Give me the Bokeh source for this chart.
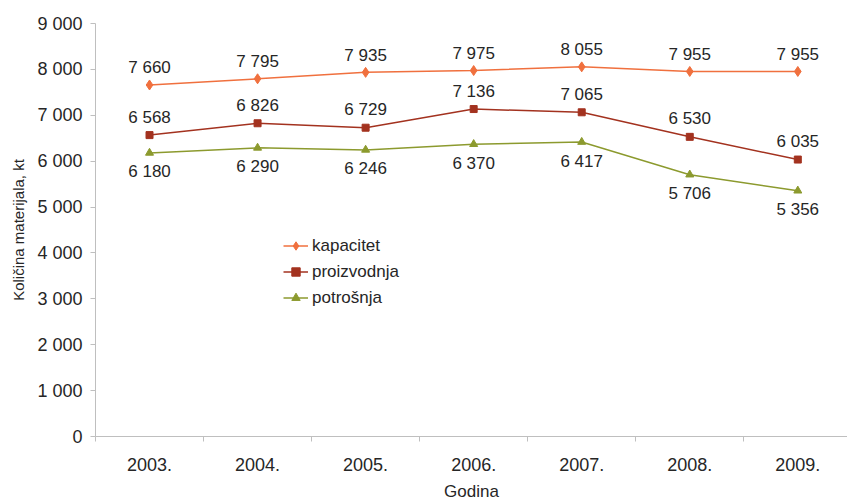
from bokeh.plotting import figure
from bokeh.models import FixedTicker, Range1d, Legend, LegendItem, ColumnDataSource
from bokeh.core.properties import value
from bokeh.embed import file_html
from bokeh.resources import INLINE

years = ["2003.", "2004.", "2005.", "2006.", "2007.", "2008.", "2009."]
kapacitet = [7660, 7795, 7935, 7975, 8055, 7955, 7955]
proizvodnja = [6568, 6826, 6729, 7136, 7065, 6530, 6035]
potrosnja = [6180, 6290, 6246, 6370, 6417, 5706, 5356]
y_ticks = [0, 1000, 2000, 3000, 4000, 5000, 6000, 7000, 8000, 9000]

FONT = "Liberation Sans"
xs = [i + 0.5 for i in range(len(years))]

def fmt(v):
    return f"{v:,}".replace(",", " ")

p = figure(width=847, height=503, output_backend="svg", toolbar_location=None,
           x_range=Range1d(0, 6.96), y_range=Range1d(0, 9000),
           min_border_left=95, min_border_right=0, min_border_top=23, min_border_bottom=58)
p.outline_line_color = None
p.xgrid.visible = False
p.ygrid.visible = False

series = [
    ("kapacitet", kapacitet, "#f0703e", "diamond", 10, -17),
    ("proizvodnja", proizvodnja, "#a3321f", "square", 7, -18),
    ("potrošnja", potrosnja, "#8c9a2e", "triangle", 8, 19),
]
items = []
for name, vals, color, marker, size, yoff in series:
    src = ColumnDataSource(dict(x=xs, y=vals, t=[fmt(v) for v in vals]))
    ln = p.line("x", "y", source=src, line_color=color, line_width=1.5)
    sc = p.scatter("x", "y", source=src, marker=marker, size=size, fill_color=color, line_color=color)
    p.text("x", "y", text="t", source=src, x_offset=0, y_offset=yoff,
           text_align="center", text_baseline="middle", text_font=value(FONT),
           text_font_size="17px", text_color="#262626")
    items.append(LegendItem(label=name, renderers=[ln, sc]))

legend = Legend(items=items, location=(188, 128), orientation="vertical",
                label_text_font=FONT, label_text_font_size="17px", label_text_color="#262626",
                border_line_color=None, background_fill_alpha=0, padding=0, spacing=5,
                glyph_width=25, glyph_height=21, label_height=21, label_standoff=4, margin=0)
p.add_layout(legend, "center")

ax = p.xaxis[0]
ax.ticker = FixedTicker(ticks=xs, minor_ticks=list(range(0, 8)))
ax.major_label_overrides = {x: y for x, y in zip(xs, years)}
ax.major_tick_out = 0
ax.major_tick_in = 0
ax.minor_tick_out = 5
ax.minor_tick_in = 0
ax.minor_tick_line_color = "#bfbfbf"
ax.axis_line_color = "#bfbfbf"
ax.major_label_text_font = FONT
ax.major_label_text_font_size = "18px"
ax.major_label_text_color = "#262626"
ax.major_label_standoff = 16
ax.axis_label = "Godina"
ax.axis_label_text_font = FONT
ax.axis_label_text_font_size = "17px"
ax.axis_label_text_font_style = "normal"
ax.axis_label_text_color = "#262626"
ax.axis_label_standoff = 8

ay = p.yaxis[0]
ay.ticker = FixedTicker(ticks=y_ticks)
ay.major_label_overrides = {v: fmt(v) for v in y_ticks}
ay.major_tick_out = 5
ay.major_tick_in = 0
ay.minor_tick_line_color = None
ay.major_tick_line_color = "#bfbfbf"
ay.axis_line_color = "#bfbfbf"
ay.major_label_text_font = FONT
ay.major_label_text_font_size = "18px"
ay.major_label_text_color = "#262626"
ay.major_label_standoff = 8
ay.axis_label = "Količina materijala, kt"
ay.axis_label_text_font = FONT
ay.axis_label_text_font_size = "15px"
ay.axis_label_text_font_style = "normal"
ay.axis_label_text_color = "#262626"
ay.axis_label_standoff = 7

open("out.html", "w").write(file_html(p, INLINE))
